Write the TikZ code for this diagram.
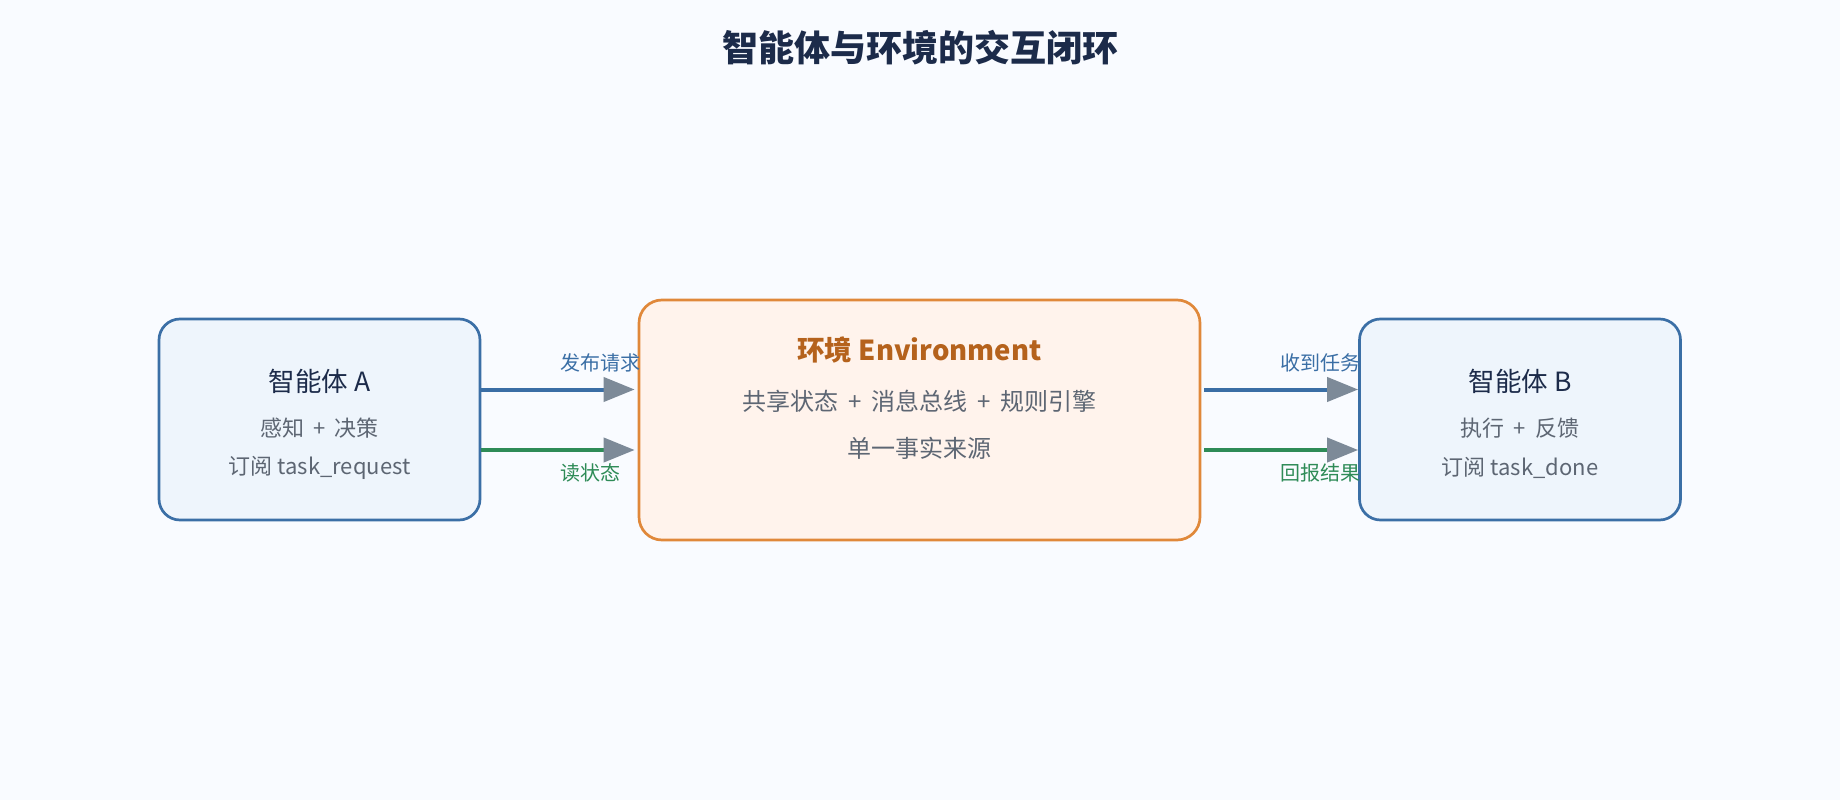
\documentclass[tikz,border=0pt]{standalone}
\usepackage{fontspec}
\setmainfont{Noto Sans CJK SC}
\usetikzlibrary{arrows.meta,calc}
\definecolor{bg}{HTML}{F9FBFF}
\definecolor{agfill}{HTML}{EEF5FC}
\definecolor{agline}{HTML}{3B6FA6}
\definecolor{envfill}{HTML}{FFF3EC}
\definecolor{envline}{HTML}{E0883A}
\definecolor{navy}{HTML}{1C2B4A}
\definecolor{envtitle}{HTML}{B5621C}
\definecolor{greytext}{HTML}{5D6673}
\definecolor{bluearr}{HTML}{3A6EA5}
\definecolor{greenarr}{HTML}{2E8B57}
\definecolor{headgrey}{HTML}{7D8A98}
\newcommand{\fs}[1]{\fontsize{#1}{#1}\selectfont}
\newcommand{\pl}{\hspace{0.42em}+\hspace{0.42em}}
\tikzset{
  agent/.style={draw=agline, fill=agfill, line width=2.7pt, rounded corners=21pt,
    minimum width=321pt, minimum height=201pt, inner sep=0pt},
  envbox/.style={draw=envline, fill=envfill, line width=2.7pt, rounded corners=23pt,
    minimum width=561pt, minimum height=240pt, inner sep=0pt},
  ttl/.style={font=\fs{26.5}, text=navy, inner sep=0pt, anchor=center},
  sub/.style={font=\fs{22}, text=greytext, inner sep=0pt, anchor=center},
  esub/.style={font=\fs{24}, text=greytext, inner sep=0pt, anchor=center},
  lbl/.style={font=\fs{20}, inner sep=0pt, anchor=west},
  flow/.style={line width=4pt, -{Triangle[length=31pt,width=24pt,color=headgrey]}},
}
\begin{document}
\begin{tikzpicture}[x=1pt,y=-1pt]
\fill[bg] (0,0) rectangle (1840,800);
\useasboundingbox (0,0) rectangle (1840,800);
\node[font=\fs{36}\bfseries, text=navy, inner sep=0pt] (title) at (920,48) {智能体与环境的交互闭环};
\node[agent] (a) at (319.5,419.5) {};
\node[envbox] (env) at (919.5,420) {};
\node[agent] (b) at (1520,419.5) {};
\node[ttl] (at) at (319.5,381) {智能体 A};
\node[sub] (a1) at (319.5,428) {感知\pl 决策};
\node[sub] (a2) at (319.5,468) {订阅 task\_request};
\node[font=\fs{27.5}\bfseries, text=envtitle, inner sep=0pt] (et) at (919.5,350) {环境 Environment};
\node[esub] (e1) at (919.5,401.5) {共享状态\pl 消息总线\pl 规则引擎};
\node[esub] (e2) at (919.5,448) {单一事实来源};
\node[ttl] (bt) at (1520,381) {智能体 B};
\node[sub] (b1) at (1520,428) {执行\pl 反馈};
\node[sub] (b2) at (1520,468) {订阅 task\_done};
\draw[flow, bluearr, shorten >=3pt] ([yshift=30pt]a.east) -- ([yshift=30pt]a.east -| env.west);
\draw[flow, greenarr, shorten >=3pt] ([yshift=-30.5pt]a.east) -- ([yshift=-30.5pt]a.east -| env.west);
\draw[flow, bluearr, shorten <=3pt] ([yshift=30pt]b.west -| env.east) -- ([yshift=30pt]b.west);
\draw[flow, greenarr, shorten <=3pt] ([yshift=-30.5pt]b.west -| env.east) -- ([yshift=-30.5pt]b.west);
\node[lbl, text=bluearr] (l1) at (560.5,363) {发布请求};
\node[lbl, text=greenarr] (l2) at (560.5,473) {读状态};
\node[lbl, text=bluearr] (l3) at (1280.5,363) {收到任务};
\node[lbl, text=greenarr] (l4) at (1280.5,473) {回报结果};
\end{tikzpicture}
\end{document}
